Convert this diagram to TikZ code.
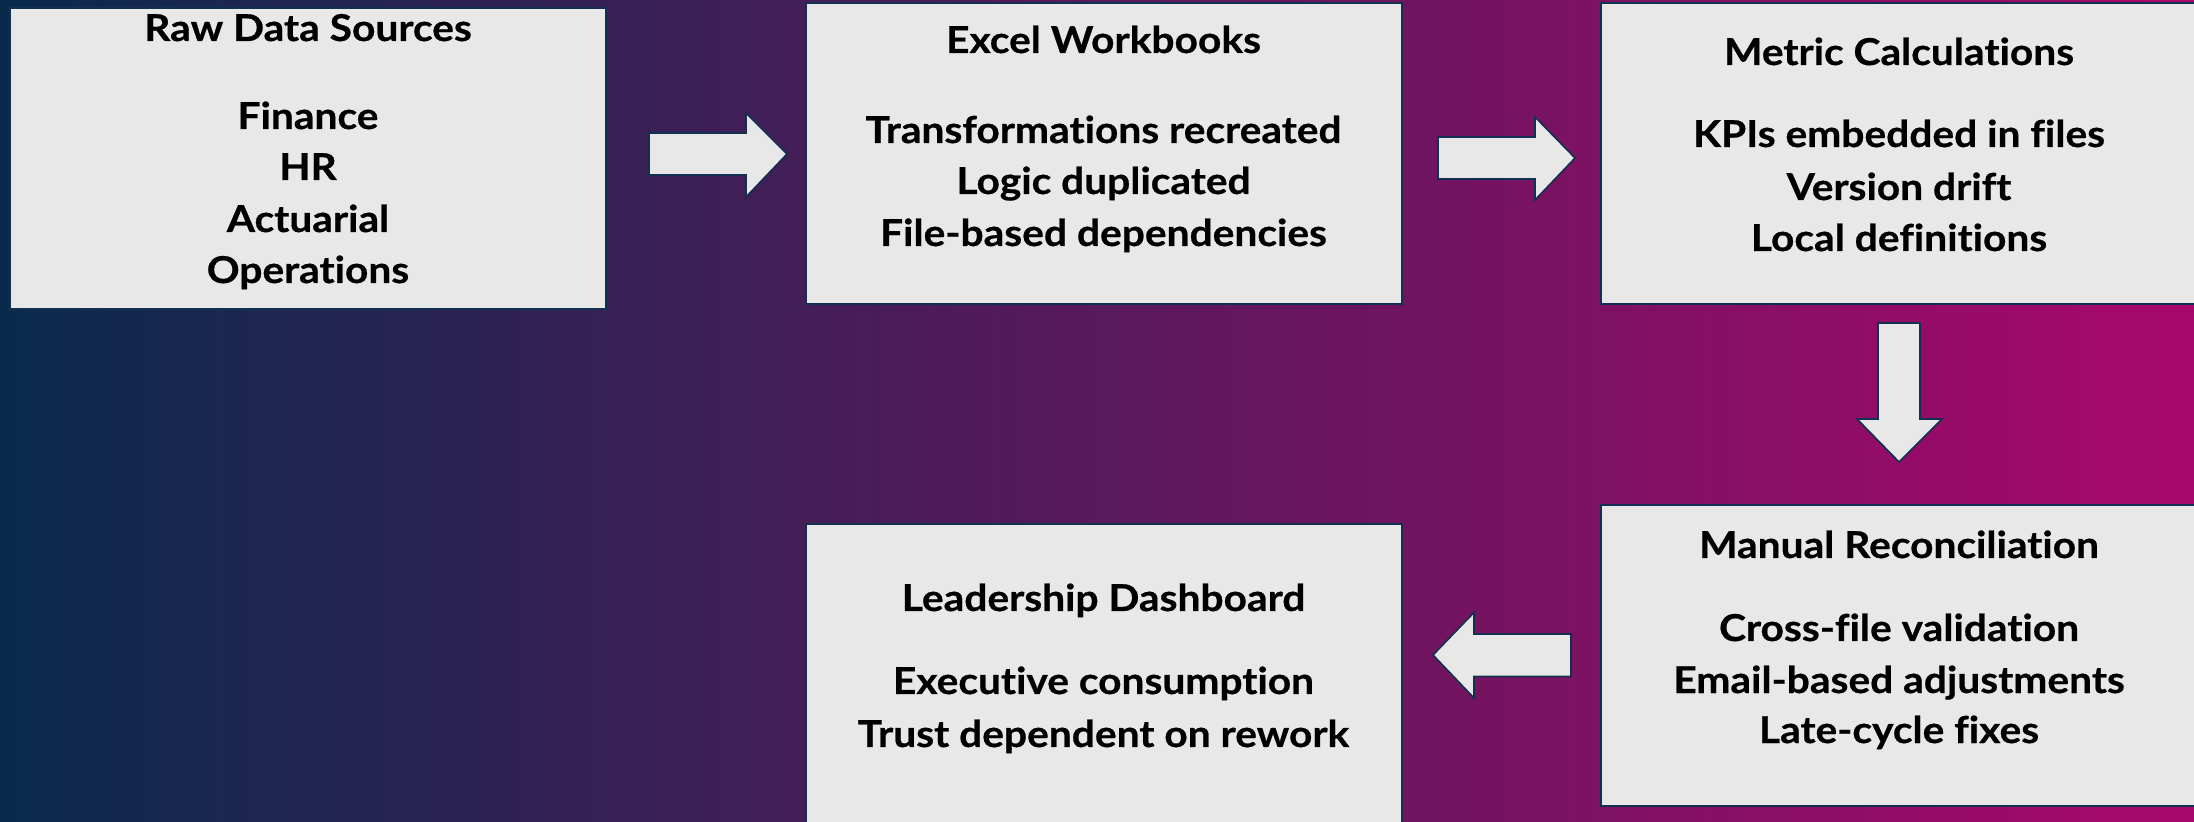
\documentclass[tikz,border=0pt]{standalone}
\usepackage{fontspec}
\setmainfont{Lato}[Ligatures=NoCommon, FakeStretch=1.1, BoldFeatures={FakeBold=0.6}]
\definecolor{bgnavy}{HTML}{0A2A4B}
\definecolor{bgpurple}{HTML}{6A2682}
\definecolor{bgmagenta}{HTML}{A8086B}
\definecolor{panelgray}{HTML}{E8E8E8}
\definecolor{panelline}{HTML}{12304F}
\tikzset{
    panel/.style={draw=panelline, line width=1pt, fill=panelgray, rectangle, inner sep=0pt, minimum width=298pt, minimum height=150.5pt},
    paneltext/.style={anchor=base, inner sep=0pt, text=black, font=\fontsize{18.5pt}{22pt}\selectfont\bfseries},
    flowarrow/.style={draw=panelline, line width=0.8pt, fill=panelgray, line join=miter}
}
\begin{document}
\begin{tikzpicture}[x=0.5pt, y=-0.5pt]
        \useasboundingbox (0,0) rectangle (2194,822);
        \shade[left color=bgnavy, middle color=bgpurple, right color=bgmagenta] (0,0) rectangle (2194,822);

        % boxes
        \node[panel] (raw) at (308,158.5) {};
        \node[panel] (excel) at (1103.5,153.7) {};
        \node[panel] (metric) at (1899,153.7) {};
        \node[panel] (recon) at (1899,655.5) {};
        \node[panel] (dash) at (1103.5,674.5) {};

        % block arrows
        \draw[flowarrow] (649,133) -- (746,133) -- (746,113) -- (787,154) -- (746,197) -- (746,175) -- (649,175) -- cycle;
        \draw[flowarrow] (1438,137) -- (1535,137) -- (1535,117) -- (1575,158) -- (1535,200) -- (1535,179) -- (1438,179) -- cycle;
        \draw[flowarrow] (1878,323) -- (1920,323) -- (1920,419) -- (1942,419) -- (1899,462) -- (1857,419) -- (1878,419) -- cycle;
        \draw[flowarrow] (1571,634) -- (1474,634) -- (1474,612.5) -- (1433,655) -- (1474,698) -- (1474,676.5) -- (1571,676.5) -- cycle;

        % texts
        \node[paneltext] (rawtitle) at (308,41) {Raw Data Sources};
        \node[paneltext] (rawfin) at (308,129) {Finance};
        \node[paneltext] (rawhr) at (308,180) {HR};
        \node[paneltext] (rawact) at (308,232) {Actuarial};
        \node[paneltext] (rawops) at (308,283) {Operations};

        \node[paneltext] (exceltitle) at (1103.5,53) {Excel Workbooks};
        \node[paneltext] (excelA) at (1103.5,143) {Transformations recreated};
        \node[paneltext] (excelB) at (1103.5,194) {Logic duplicated};
        \node[paneltext] (excelC) at (1103.5,246) {File-based dependencies};

        \node[paneltext] (metrictitle) at (1899,65) {Metric Calculations};
        \node[paneltext] (metricA) at (1899,147) {KPIs embedded in files};
        \node[paneltext] (metricB) at (1899,200) {Version drift};
        \node[paneltext] (metricC) at (1899,251) {Local definitions};

        \node[paneltext] (recontitle) at (1899,558) {Manual Reconciliation};
        \node[paneltext] (reconA) at (1899,641) {Cross-file validation};
        \node[paneltext] (reconB) at (1899,693) {Email-based adjustments};
        \node[paneltext] (reconC) at (1899,743) {Late-cycle fixes};

        \node[paneltext] (dashtitle) at (1103.5,611) {Leadership Dashboard};
        \node[paneltext] (dashA) at (1103.5,694) {Executive consumption};
        \node[paneltext] (dashB) at (1103.5,747) {Trust dependent on rework};
    \end{tikzpicture}
\end{document}
